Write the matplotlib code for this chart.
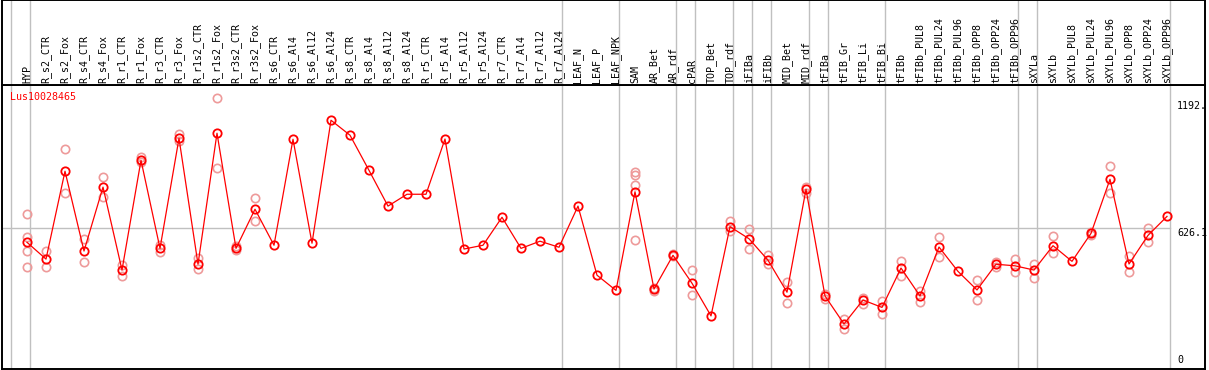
import matplotlib
matplotlib.use("Agg")
from matplotlib import pyplot as plt

# Column labels (sample names)
labels = [
    "HYP", "R_s2_CTR", "R_s2_Fox", "R_s4_CTR", "R_s4_Fox", "R_r1_CTR", "R_r1_Fox",
    "R_r3_CTR", "R_r3_Fox", "R_r1s2_CTR", "R_r1s2_Fox", "R_r3s2_CTR", "R_r3s2_Fox",
    "R_s6_CTR", "R_s6_Al4", "R_s6_Al12", "R_s6_Al24", "R_s8_CTR", "R_s8_Al4",
    "R_s8_Al12", "R_s8_Al24", "R_r5_CTR", "R_r5_Al4", "R_r5_Al12", "R_r5_Al24",
    "R_r7_CTR", "R_r7_Al4", "R_r7_Al12", "R_r7_Al24", "LEAF_N", "LEAF_P", "LEAF_NPK",
    "SAM", "AR_Bet", "AR_rdf", "cPAR", "TOP_Bet", "TOP_rdf", "iFIBa", "iFIBb",
    "MID_Bet", "MID_rdf", "tFIBa", "tFIB_Gr", "tFIB_Li", "tFIB_Bi", "tFIBb",
    "tFIBb_PUL8", "tFIBb_PUL24", "tFIBb_PUL96", "tFIBb_OPP8", "tFIBb_OPP24",
    "tFIBb_OPP96", "sXYLa", "sXYLb", "sXYLb_PUL8", "sXYLb_PUL24", "sXYLb_PUL96",
    "sXYLb_OPP8", "sXYLb_OPP24", "sXYLb_OPP96",
]

# Mean expression per sample
means = [
    562, 487, 880, 523, 809, 438, 929, 535, 1027, 464, 1050, 535, 710,
    549, 1023, 558, 1108, 1041, 884, 724, 777, 777, 1024, 532, 549,
    674, 535, 567, 540, 724, 415, 347,
    788, 353, 504, 379, 233, 632, 578, 482, 339, 799,
    322, 197, 304, 271, 447, 322, 541, 432, 349, 464, 457,
    438, 547, 477, 602, 844, 465, 593, 678,
]

# Replicate values per sample
replicates = [
    [688, 587, 525, 450], [525, 450], [978, 781], [576, 473], [853, 763],
    [461, 413], [945, 920], [550, 520], [1045, 1015], [491, 441], [1206, 893],
    [546, 528], [759, 657],
    [], [], [], [], [], [], [], [], [], [], [], [], [], [], [], [],
    [], [], [],
    [877, 863, 818, 572], [344, 358], [510, 501], [438, 325], [], [656, 613],
    [623, 531], [504, 464], [383, 289], [808, 784],
    [331, 307], [219, 174], [312, 286], [301, 243], [479, 411], [346, 295],
    [584, 495], [], [392, 304], [474, 453], [487, 428],
    [465, 402], [589, 513], [], [608, 597], [903, 781], [501, 429], [625, 563], [],
]

# Number of samples in each group (separated by grey lines)
group_sizes = [1, 28, 3, 3, 1, 2, 1, 1, 2, 1, 3, 7, 1, 7]

gene = "Lus10028465"
mean_line = 626.1
top_label = "1192."

W, H = 1209, 370
fig = plt.figure(figsize=(W / 100, H / 100), dpi=100)
mono = "DejaVu Sans Mono"
fs = 7.2

xlim = ((2 - 27) / 19, (1205 - 27) / 19)
ax = fig.add_axes([2 / W, 1 / H, 1203 / W, 284 / H])
hd = fig.add_axes([2 / W, 285 / H, 1203 / W, 85 / H])

for a in (ax, hd):
    a.set_xlim(*xlim)
    a.set_xticks([])
    a.set_yticks([])
    for s in a.spines.values():
        s.set_color("black")
        s.set_linewidth(1.4)
ax.set_ylim(-4.5, 1265.6)
hd.set_ylim(0, 1)

# grey group separators
bounds = [-1]
pos = -1
for g in group_sizes:
    pos += g
    bounds.append(pos)
for b in bounds:
    for a in (ax, hd):
        a.axvline(b + 0.18, color="#c0c0c0", lw=1.0, zorder=0)

ax.axhline(mean_line, xmax=(1170 - 2) / 1203, color="#c0c0c0", lw=1.0, zorder=0)

x = list(range(len(labels)))

# replicates
for i, reps in enumerate(replicates):
    if reps:
        ax.plot([i] * len(reps), reps, linestyle="none", marker="o", ms=6,
                mfc="none", mec="#ee9a9a", mew=1.2, zorder=2)

ax.plot(x, means, color="red", lw=0.9, marker="o", ms=6, mfc="none",
        mec="red", mew=1.3, zorder=3)

for i, lab in enumerate(labels):
    hd.text(i, 0.025, lab, rotation=90, ha="center", va="bottom",
            family=mono, fontsize=fs, color="black")

ax.text((10 - 27) / 19, 1265.6 - 12 * 4.472, gene, color="red", family=mono,
        fontsize=fs, ha="left", va="center")

lx = (1177 - 27) / 19
ax.text(lx, 1192, top_label, family=mono, fontsize=fs, ha="left", va="top", zorder=5)
ax.text(lx, mean_line, f"{mean_line}", family=mono, fontsize=fs, ha="left",
        va="top", zorder=5)
ax.text(lx, 14, "0", family=mono, fontsize=fs, ha="left", va="bottom", zorder=5)

fig.savefig("out.png", dpi=100)
plt.close(fig)
